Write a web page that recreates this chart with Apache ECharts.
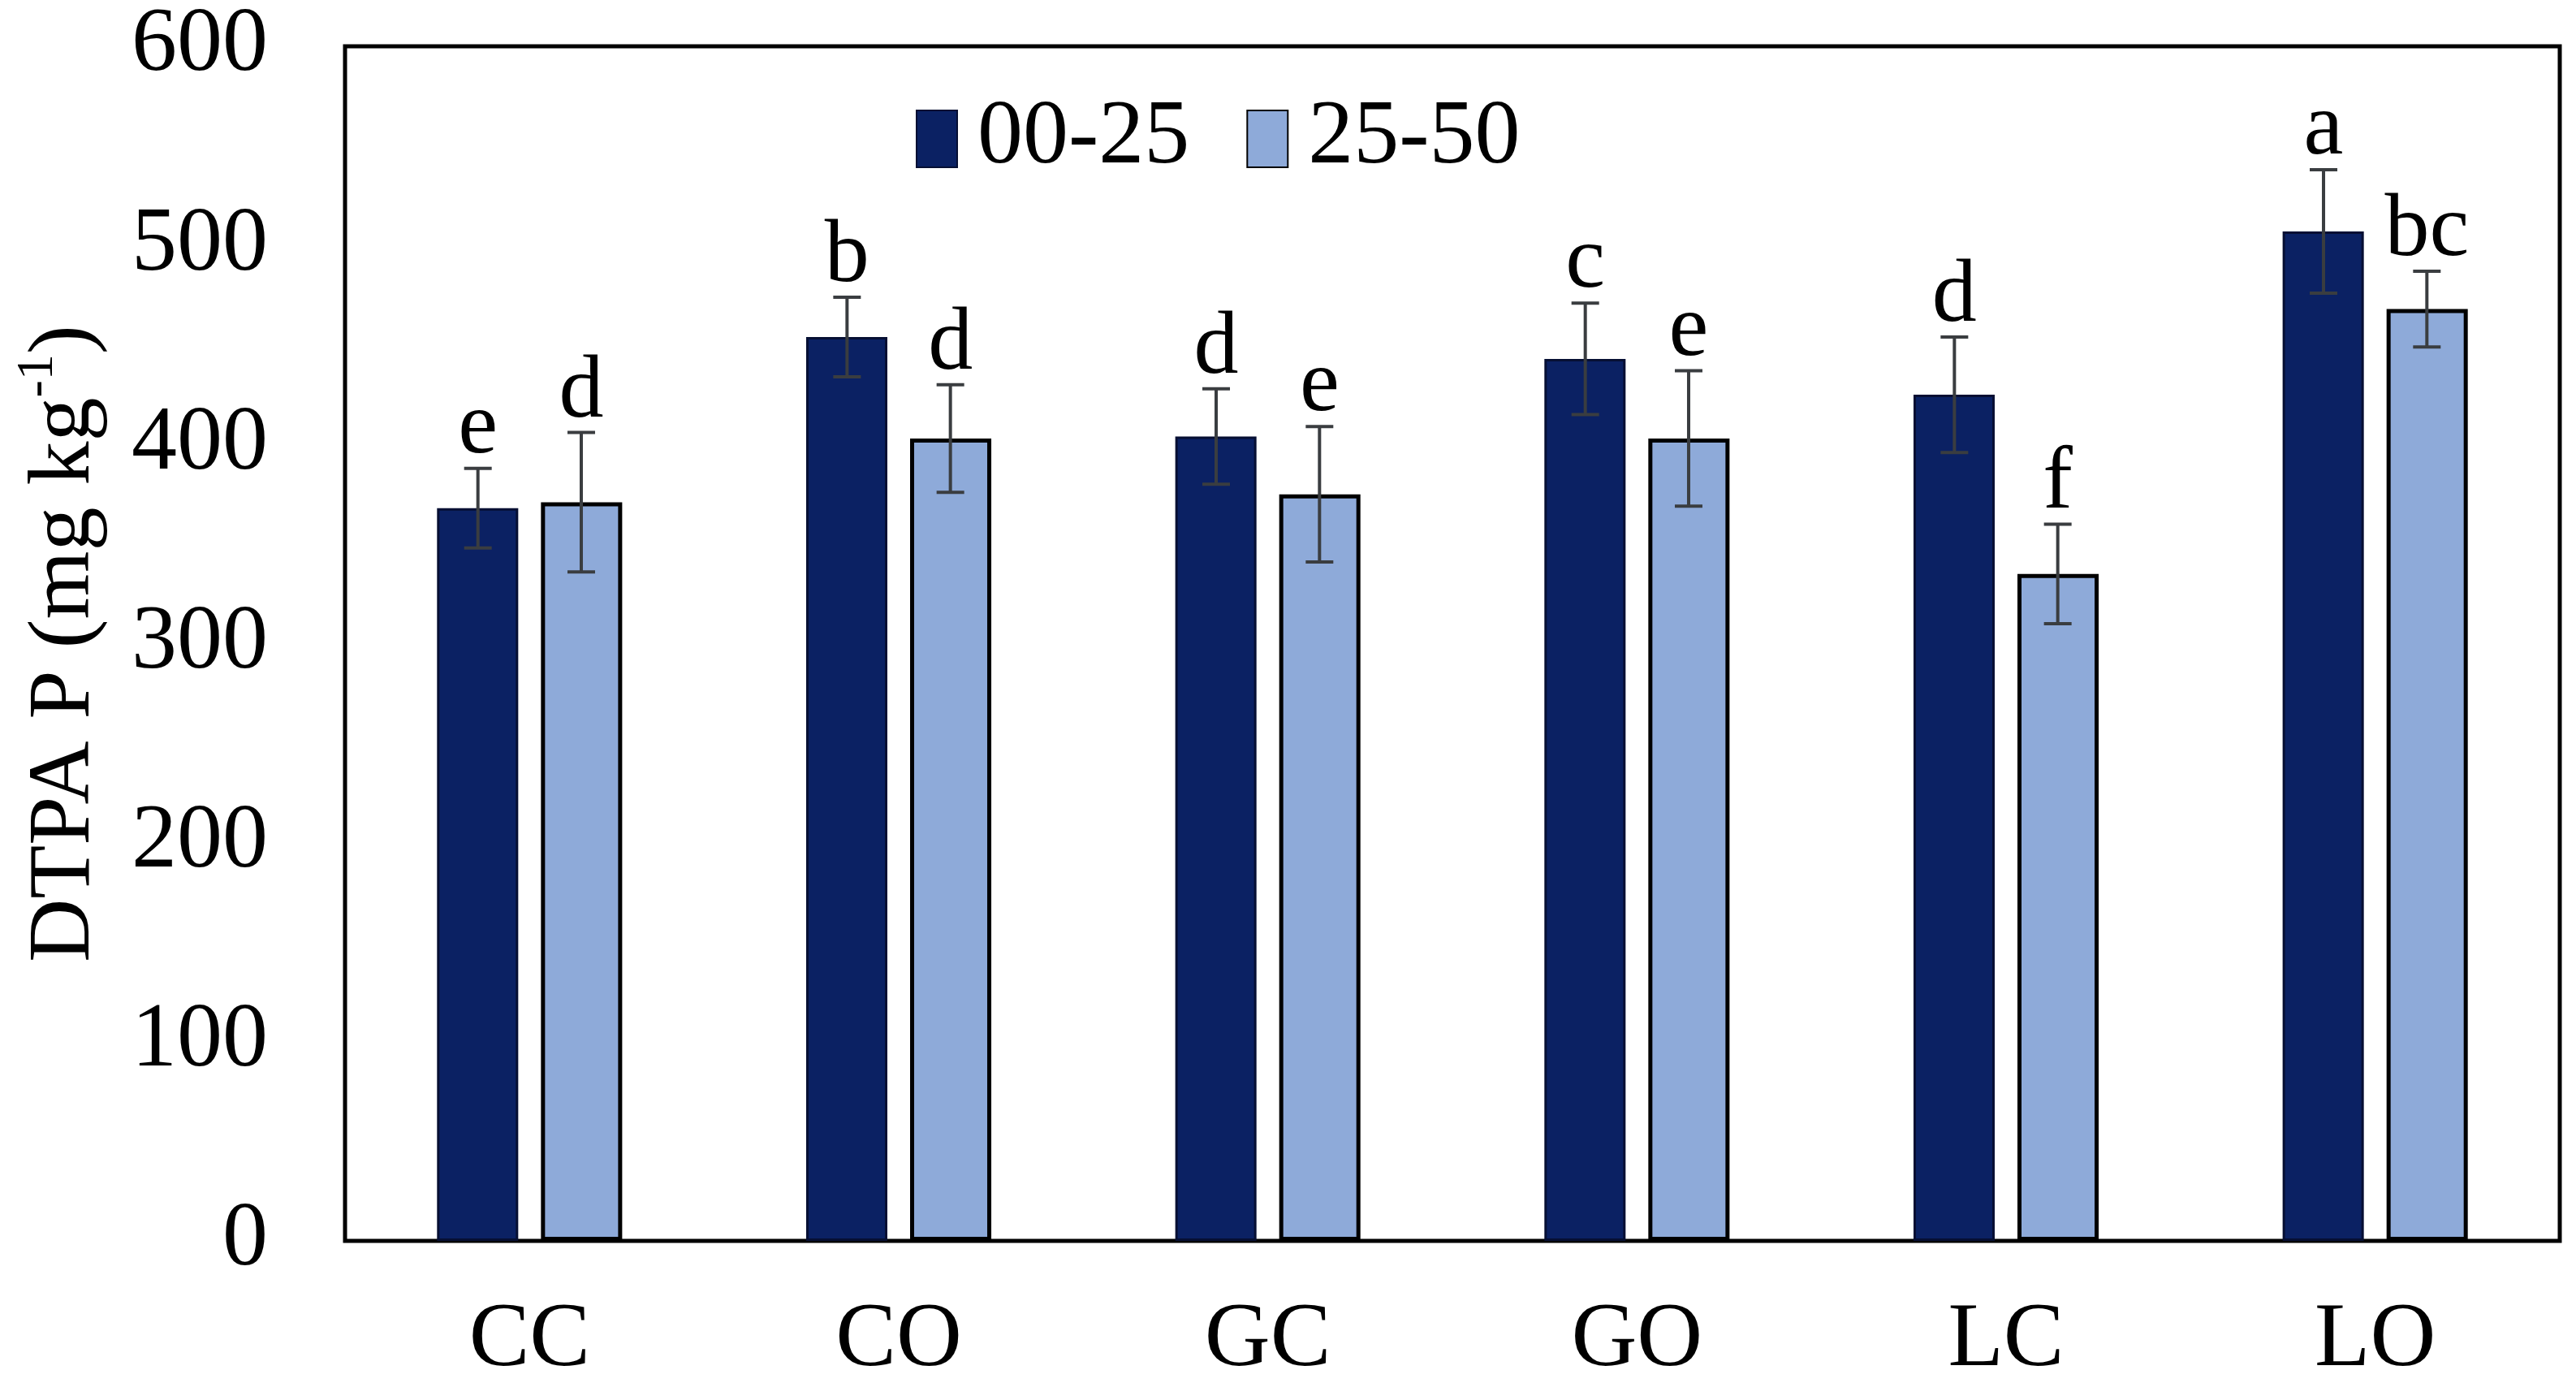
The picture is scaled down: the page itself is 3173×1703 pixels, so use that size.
<!DOCTYPE html>
<html>
<head>
<meta charset="utf-8">
<script src="https://cdn.jsdelivr.net/npm/echarts@6/dist/echarts.min.js"></script>
<style>
  html, body { margin: 0; padding: 0; background: #fff; }
  #chart { width: 3173px; height: 1703px; }
</style>
</head>
<body>
<div id="chart"></div>
<script>
// treatments and depth classes
var categories = ['CC', 'CO', 'GC', 'GO', 'LC', 'LO'];
var seriesNames = ['00-25', '25-50'];

// DTPA P (mg kg-1)
var depth1Values = [368, 454, 404, 443, 425, 507];
var depth2Values = [371, 403, 375, 403, 335, 468];

// standard errors
var depth1Err = [20, 20, 24, 28, 29, 31];
var depth2Err = [35, 27, 34, 34, 25, 19];

// significance letters
var depth1Letters = ['e', 'b', 'd', 'c', 'd', 'a'];
var depth2Letters = ['d', 'd', 'e', 'e', 'f', 'bc'];

var yTicks = [0, 100, 200, 300, 400, 500, 600];

var FONT = '"Liberation Serif", "Times New Roman", serif';
var BAR_OFFSET = 0.14; // fraction of a category band from its center

function errorSeries(values, errs, letters, side) {
  var data = [];
  for (var i = 0; i < values.length; i++) {
    data.push([i, values[i], errs[i], letters[i]]);
  }
  return {
    type: 'custom',
    silent: true,
    z: 10,
    data: data,
    renderItem: function (params, api) {
      var idx = api.value(0);
      var v = api.value(1);
      var e = api.value(2);
      var band = api.size([1, 0])[0];
      var c = api.coord([idx, v]);
      var x = c[0] + side * BAR_OFFSET * band;
      var yTop = api.coord([idx, v + e])[1];
      var yBot = api.coord([idx, v - e])[1];
      var half = 17;
      var lineStyle = { stroke: '#3a3d40', lineWidth: 4 };
      return {
        type: 'group',
        children: [
          { type: 'line', shape: { x1: x, y1: yTop, x2: x, y2: yBot }, style: lineStyle },
          { type: 'line', shape: { x1: x - half, y1: yTop, x2: x + half, y2: yTop }, style: lineStyle },
          { type: 'line', shape: { x1: x - half, y1: yBot, x2: x + half, y2: yBot }, style: lineStyle },
          {
            type: 'text',
            style: {
              text: letters[params.dataIndex],
              x: x,
              y: yTop + 6,
              textAlign: 'center',
              textVerticalAlign: 'bottom',
              fill: '#000',
              font: '110px ' + FONT
            }
          }
        ]
      };
    }
  };
}

var chart = echarts.init(document.getElementById('chart'));
chart.setOption({
  backgroundColor: '#fff',
  animation: false,
  textStyle: { fontFamily: FONT },
  grid: {
    left: 425,
    right: 20,
    top: 57,
    bottom: 175,
    show: true,
    borderColor: '#000',
    borderWidth: 5,
    containLabel: false,
    outerBoundsMode: 'none'
  },
  legend: {
    data: seriesNames,
    left: 1123,
    top: 110,
    itemWidth: 50,
    itemHeight: 70,
    itemGap: 70,
    icon: 'rect',
    textStyle: {
      fontFamily: FONT,
      fontSize: 112,
      color: '#000',
      padding: [0, 0, 0, 20]
    }
  },
  xAxis: {
    type: 'category',
    data: categories,
    axisLine: { show: false },
    axisTick: { show: false },
    axisLabel: {
      color: '#000',
      fontFamily: FONT,
      fontSize: 112,
      margin: 68
    },
    splitLine: { show: false }
  },
  yAxis: {
    type: 'value',
    min: yTicks[0],
    max: yTicks[yTicks.length - 1],
    interval: 100,
    axisLine: { show: false },
    axisTick: { show: false },
    splitLine: { show: false },
    axisLabel: {
      color: '#000',
      fontFamily: FONT,
      fontSize: 112,
      margin: 95
    },
    name: '{a|DTPA P (mg kg}{s|-1}{a|)}',
    nameLocation: 'middle',
    nameGap: 290,
    nameRotate: 90,
    nameTextStyle: {
      rich: {
        a: { fontFamily: FONT, fontSize: 108, color: '#000', lineHeight: 120, verticalAlign: 'bottom' },
        s: { fontFamily: FONT, fontSize: 64, color: '#000', lineHeight: 120, verticalAlign: 'top' }
      }
    }
  },
  series: [
    {
      name: seriesNames[0],
      type: 'bar',
      data: depth1Values,
      barWidth: '22%',
      barGap: '28%',
      itemStyle: { color: '#0b2163', borderColor: '#060f33', borderWidth: 3 }
    },
    {
      name: seriesNames[1],
      type: 'bar',
      data: depth2Values,
      barWidth: '22%',
      itemStyle: { color: '#8eaad9', borderColor: '#000', borderWidth: 5 }
    },
    errorSeries(depth1Values, depth1Err, depth1Letters, -1),
    errorSeries(depth2Values, depth2Err, depth2Letters, 1)
  ]
});
</script>
</body>
</html>
